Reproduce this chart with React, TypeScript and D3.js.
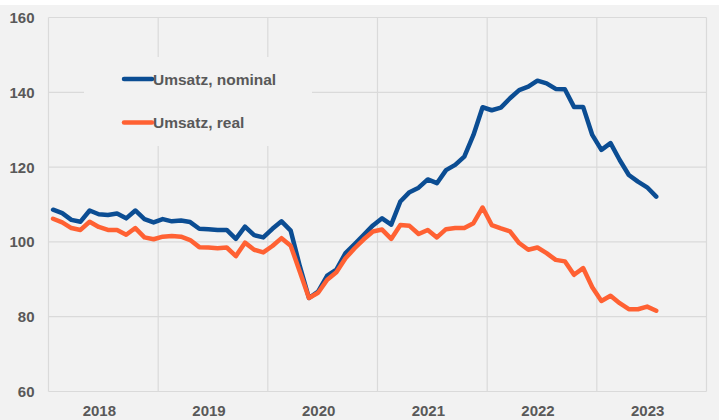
import React, { useEffect, useRef } from 'react';
import * as d3 from 'd3';

// monthly index values, Jan 2018 .. Jul 2023
const years = [2018, 2019, 2020, 2021, 2022, 2023];
const yTicks = [60, 80, 100, 120, 140, 160];

const nominal = [
    108.6, 107.7, 105.9, 105.4, 108.4, 107.4, 107.2, 107.6, 106.3, 108.4, 106.1, 105.2,
    106.1, 105.5, 105.7, 105.3, 103.5, 103.4, 103.2, 103.2, 100.8, 104.1, 101.8, 101.2,
    103.5, 105.5, 103.0, 93.5, 85.0, 86.7, 91.0, 92.6, 97.0, 99.4, 101.9, 104.4,
    106.3, 104.6, 110.8, 113.3, 114.5, 116.7, 115.7, 119.2, 120.6, 122.8, 128.6, 136.0,
    135.2, 135.9, 138.4, 140.6, 141.5, 143.1, 142.4, 140.9, 140.8, 136.1, 136.1, 128.6,
    124.6, 126.4, 121.9, 117.9, 116.1, 114.6, 112.1
];
const real = [
    106.2, 105.2, 103.7, 103.2, 105.4, 104.0, 103.2, 103.2, 101.9, 103.7, 101.2, 100.7,
    101.4, 101.6, 101.4, 100.5, 98.6, 98.5, 98.3, 98.5, 96.2, 99.8, 97.9, 97.2,
    98.9, 101.0, 99.0, 92.0, 85.0, 86.4, 89.9, 91.9, 95.6, 98.3, 100.7, 102.8,
    103.3, 100.8, 104.5, 104.3, 102.1, 103.2, 101.2, 103.4, 103.7, 103.7, 105.0, 109.2,
    104.5, 103.6, 102.8, 99.7, 97.9, 98.5, 97.0, 95.2, 94.8, 91.2, 93.0, 87.9,
    84.2, 85.6, 83.6, 82.0, 82.0, 82.7, 81.6
];

const series = [
    { name: 'Umsatz, nominal', values: nominal, color: '#0b4d93' },
    { name: 'Umsatz, real', values: real, color: '#ff6133' }
];

const width = 725, height = 420;
const margin = { top: 17.5, right: 18.5, bottom: 28.5, left: 48.5 };

export default function App() {
    const ref = useRef<SVGSVGElement>(null);

    useEffect(() => {
        const svg = d3.select(ref.current);
        svg.selectAll('*').remove();

        const x = d3.scaleLinear()
            .domain([2018, 2024])
            .range([margin.left, width - margin.right]);
        const y = d3.scaleLinear()
            .domain([60, 160])
            .range([height - margin.bottom, margin.top]);

        // background
        svg.append('rect')
            .attr('x', 0).attr('y', 5)
            .attr('width', 719).attr('height', height - 5)
            .attr('fill', '#f2f2f2');

        // grid
        const grid = svg.append('g').attr('stroke', '#dadada').attr('stroke-width', 1.2);
        grid.selectAll('line.h')
            .data(yTicks)
            .enter().append('line')
            .attr('x1', margin.left).attr('x2', width - margin.right)
            .attr('y1', d => y(d)).attr('y2', d => y(d));
        grid.selectAll('line.v')
            .data([...years, 2024])
            .enter().append('line')
            .attr('x1', d => x(d)).attr('x2', d => x(d))
            .attr('y1', margin.top).attr('y2', height - margin.bottom);

        // y labels
        svg.append('g')
            .attr('font-family', '"Liberation Sans", Arial, sans-serif')
            .attr('font-size', 15)
            .attr('font-weight', 'bold')
            .attr('fill', '#595959')
            .attr('text-anchor', 'end')
            .selectAll('text')
            .data(yTicks)
            .enter().append('text')
            .attr('x', 34.5)
            .attr('y', d => y(d))
            .attr('dy', '0.36em')
            .text(d => d);

        // x labels
        svg.append('g')
            .attr('font-family', '"Liberation Sans", Arial, sans-serif')
            .attr('font-size', 15)
            .attr('font-weight', 'bold')
            .attr('fill', '#595959')
            .attr('text-anchor', 'middle')
            .selectAll('text')
            .data(years)
            .enter().append('text')
            .attr('x', d => x(d + 0.5) - 4)
            .attr('y', 416)
            .text(d => d);

        // legend box hides grid behind it
        svg.append('rect')
            .attr('x', 84).attr('y', 57)
            .attr('width', 228).attr('height', 89)
            .attr('fill', '#f2f2f2');

        const line = d3.line<number>()
            .x((d, i) => x(2018 + (i + 0.5) / 12))
            .y(d => y(d));

        svg.append('g')
            .selectAll('path')
            .data(series)
            .enter().append('path')
            .attr('fill', 'none')
            .attr('stroke', d => d.color)
            .attr('stroke-width', 4.5)
            .attr('stroke-linejoin', 'round')
            .attr('stroke-linecap', 'round')
            .attr('d', d => line(d.values));

        const legend = svg.append('g')
            .selectAll('g')
            .data(series)
            .enter().append('g')
            .attr('transform', (d, i) => `translate(123,${79 + i * 43.5})`);

        legend.append('line')
            .attr('x1', 1).attr('x2', 29)
            .attr('stroke', d => d.color)
            .attr('stroke-width', 4.5)
            .attr('stroke-linecap', 'round');

        legend.append('text')
            .attr('x', 30)
            .attr('dy', '0.36em')
            .attr('font-family', '"Liberation Sans", Arial, sans-serif')
            .attr('font-size', 15.5)
            .attr('font-weight', 'bold')
            .attr('fill', '#595959')
            .text(d => d.name);
    }, []);

    return (
        <svg ref={ref} width={width} height={height}
            style={{ position: 'absolute', left: 0, top: 0, display: 'block' }} />
    );
}
